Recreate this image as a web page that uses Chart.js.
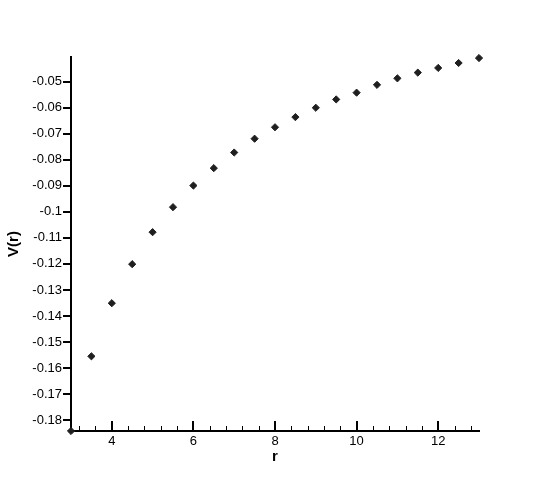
<!DOCTYPE html>
<html>
<head>
<meta charset="utf-8">
<script src="https://cdn.jsdelivr.net/npm/chart.js@4/dist/chart.umd.min.js"></script>
<style>
  html, body { margin: 0; padding: 0; background: #ffffff; }
  #wrap { width: 545px; height: 485px; }
</style>
</head>
<body>
<div id="wrap"><canvas id="c" width="545" height="485"></canvas></div>
<script>
// ---- data ----
const rValues = [3, 3.5, 4, 4.5, 5, 5.5, 6, 6.5, 7, 7.5, 8, 8.5, 9, 9.5, 10, 10.5, 11, 11.5, 12, 12.5, 13];
const vValues = [-0.1842, -0.1555, -0.1351, -0.1201, -0.1078, -0.0982, -0.0899, -0.0832, -0.0772, -0.0719,
                 -0.0675, -0.0636, -0.0600, -0.0568, -0.0542, -0.0512, -0.0487, -0.0465, -0.0447, -0.0428, -0.0409];
const xMajorTicks = [4, 6, 8, 10, 12];
const xMinorStep = 0.4;
const yTicks = [-0.18, -0.17, -0.16, -0.15, -0.14, -0.13, -0.12, -0.11, -0.1, -0.09, -0.08, -0.07, -0.06, -0.05];
const xRange = [3, 13];
const yRange = [-0.1842, -0.0405];
const xTitle = 'r';
const yTitle = 'V(r)';

const FONT = "'Liberation Sans', Arial, Helvetica, sans-serif";

const points = rValues.map((r, i) => ({ x: r, y: vValues[i] }));

const isMajor = v => xMajorTicks.some(m => Math.abs(m - v) < 1e-6);

const xTickPlugin = {
  id: 'xInwardTicks',
  afterDraw(chart) {
    const xs = chart.scales.x;
    const ctx = chart.ctx;
    const base = chart.chartArea.bottom;
    ctx.save();
    ctx.strokeStyle = '#000';
    xs.ticks.forEach(t => {
      const px = xs.getPixelForValue(t.value);
      const major = isMajor(t.value);
      ctx.lineWidth = major ? 2 : 1;
      const len = major ? 10 : 5;
      const ax = major ? Math.round(px) : Math.round(px) + 0.5;
      ctx.beginPath();
      ctx.moveTo(ax, base);
      ctx.lineTo(ax, base - len);
      ctx.stroke();
    });
    ctx.restore();
  }
};

new Chart(document.getElementById('c'), {
  type: 'scatter',
  data: {
    datasets: [{
      data: points,
      pointStyle: 'rectRot',
      pointRadius: 3.6,
      pointHoverRadius: 3.6,
      backgroundColor: '#1f1f1f',
      borderColor: '#1f1f1f',
      borderWidth: 1,
      clip: false
    }]
  },
  options: {
    responsive: false,
    animation: false,
    events: [],
    layout: { padding: { top: 57, right: 66, left: 0, bottom: 0 } },
    plugins: { legend: { display: false }, tooltip: { enabled: false } },
    scales: {
      x: {
        type: 'linear',
        min: xRange[0],
        max: xRange[1],
        afterBuildTicks(scale) {
          const out = [];
          const k0 = Math.ceil(scale.min / xMinorStep - 1e-9);
          const k1 = Math.floor(scale.max / xMinorStep + 1e-9);
          for (let k = k0; k <= k1; k++) {
            const v = Math.round(k * xMinorStep * 10) / 10;
            if (v > scale.min + 1e-9) out.push({ value: v });
          }
          scale.ticks = out;
        },
        afterFit(scale) { scale.height = 54; },
        grid: { display: false, drawTicks: false, tickLength: 0 },
        border: { display: true, color: '#000', width: 2 },
        ticks: {
          autoSkip: false,
          maxRotation: 0,
          padding: 3,
          color: '#000',
          font: { family: FONT, size: 13 },
          callback: v => (isMajor(v) ? String(Math.round(v)) : '')
        },
        title: {
          display: true,
          text: xTitle,
          color: '#000',
          font: { family: FONT, size: 15, weight: 'bold' },
          padding: { top: 0, bottom: 19 }
        }
      },
      y: {
        type: 'linear',
        min: yRange[0],
        max: yRange[1],
        afterBuildTicks(scale) {
          scale.ticks = yTicks.map(v => ({ value: v }));
        },
        afterFit(scale) { scale.width = 71; },
        grid: {
          display: true,
          drawOnChartArea: false,
          drawTicks: true,
          tickLength: 8,
          tickWidth: 2,
          tickColor: '#000',
          lineWidth: 2,
          color: '#000'
        },
        border: { display: true, color: '#000', width: 2 },
        ticks: {
          padding: 1,
          color: '#000',
          font: { family: FONT, size: 13 },
          callback: v => String(Math.round(v * 100) / 100)
        },
        title: {
          display: true,
          text: yTitle,
          color: '#000',
          font: { family: FONT, size: 15, weight: 'bold' },
          padding: { top: 5, bottom: 0 }
        }
      }
    }
  },
  plugins: [xTickPlugin]
});
</script>
</body>
</html>
